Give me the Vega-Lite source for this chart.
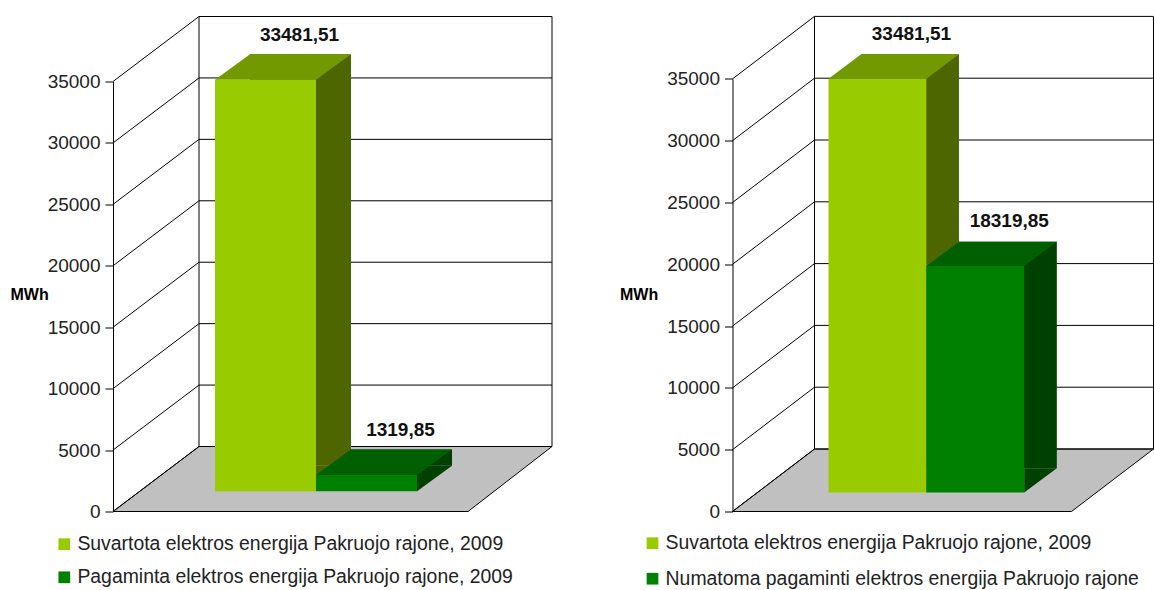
{
  "$schema": "https://vega.github.io/schema/vega-lite/v6.json",
  "padding": {"left": 10, "top": 13.5, "right": 0, "bottom": 0},
  "background": "white",
  "config": {
    "view": {"stroke": null},
    "font": "Liberation Sans",
    "locale": {"number": {"decimal": ",", "thousands": "", "grouping": [3], "currency": ["", ""]}}
  },
  "datasets": {
    "ticks": [{"t": 0}, {"t": 5000}, {"t": 10000}, {"t": 15000}, {"t": 20000}, {"t": 25000}, {"t": 30000}, {"t": 35000}],
    "one": [{"k": 1}]
  },
  "spacing": 65.5,
  "align": "none",
  "resolve": {"scale": {"color": "independent", "x": "independent", "y": "independent"}, "legend": {"color": "independent"}},
  "hconcat": [
    {
      "width": 353,
      "height": 430,
      "data": {"values": [
        {"s": "Suvartota elektros energija Pakruojo rajone, 2009", "v": 33481.51},
        {"s": "Pagaminta elektros energija Pakruojo rajone, 2009", "v": 1319.85}
      ]},
      "layer": [
        {"mark": {"type": "bar", "yOffset": -20.3, "y2Offset": -20.3, "opacity": 0},
         "encoding": {
           "x": {"field": "s", "type": "nominal", "axis": null,
                 "scale": {"type": "band", "domain": ["Suvartota elektros energija Pakruojo rajone, 2009", "Pagaminta elektros energija Pakruojo rajone, 2009"], "paddingInner": 0, "paddingOuter": 0.7475, "align": 0.106}},
           "y": {"field": "v", "type": "quantitative",
                 "scale": {"domain": [0, 35000], "nice": false, "zero": true},
                 "axis": {"values": [0, 5000, 10000, 15000, 20000, 25000, 30000, 35000], "format": "d", "offset": 86, "tickSize": 8, "tickColor": "#000", "domainColor": "#000", "grid": false,
                          "labelFontSize": 19, "labelPadding": 5, "labelColor": "#222",
                          "title": "MWh", "titleAngle": 0, "titleX": -103, "titleY": 212.7, "titleAlign": "left", "titleBaseline": "middle", "titleFontSize": 16, "titleFontWeight": "bold", "titleColor": "#000"}},
           "y2": {"datum": 0}
         }},
        {"data": {"name": "one"}, "mark": {"type": "point", "shape": "M-262.5,0L92.5,0L176.5,-65L-176.5,-65Z", "size": 4, "filled": true, "fill": "#c0c0c0", "stroke": "#000", "strokeWidth": 1, "opacity": 1},
         "encoding": {"y": {"datum": 0, "type": "quantitative"}}},
        {"data": {"name": "ticks"}, "mark": {"type": "rule", "yOffset": -65, "color": "#000", "strokeWidth": 1},
         "encoding": {"y": {"field": "t", "type": "quantitative"}}},
        {"data": {"name": "ticks"}, "mark": {"type": "point", "shape": "M-262.5,0L-176.5,-65", "size": 4, "filled": false, "stroke": "#000", "strokeWidth": 1, "opacity": 1},
         "encoding": {"y": {"field": "t", "type": "quantitative"}}},
        {"data": {"name": "one"}, "mark": {"type": "point", "shape": "M-176.5,-65L-176.5,-495M176.5,-65L176.5,-495", "size": 4, "filled": false, "stroke": "#000", "strokeWidth": 1, "opacity": 1},
         "encoding": {"y": {"datum": 0, "type": "quantitative"}}},
        {"mark": {"type": "bar", "xOffset": 35, "yOffset": -45.8, "y2Offset": -45.8},
         "encoding": {
           "x": {"field": "s", "type": "nominal", "axis": null},
           "y": {"field": "v", "type": "quantitative"},
           "y2": {"datum": 0},
           "fill": {"condition": {"test": "datum.s === 'Suvartota elektros energija Pakruojo rajone, 2009'", "value": "#4d6600"}, "value": "#004000"}
         }},
        {"mark": {"type": "point", "shape": "M50.5,-25.5L50.5,0L85.5,-25.5Z", "size": 4, "filled": true, "strokeWidth": 0, "opacity": 1, "yOffset": -20.3},
         "encoding": {
           "x": {"field": "s", "type": "nominal", "axis": null},
           "y": {"datum": 0, "type": "quantitative"},
           "fill": {"condition": {"test": "datum.s === 'Suvartota elektros energija Pakruojo rajone, 2009'", "value": "#4d6600"}, "value": "#004000"}
         }},
        {"mark": {"type": "point", "shape": "M-50.5,0L50.5,0L85.5,-25.5L-15.5,-25.5Z", "size": 4, "filled": true, "strokeWidth": 0, "opacity": 1, "yOffset": -20.3},
         "encoding": {
           "x": {"field": "s", "type": "nominal", "axis": null},
           "y": {"field": "v", "type": "quantitative"},
           "fill": {"condition": {"test": "datum.s === 'Suvartota elektros energija Pakruojo rajone, 2009'", "value": "#739900"}, "value": "#006000"}
         }},
        {"mark": {"type": "bar", "yOffset": -20.3, "y2Offset": -20.3},
         "encoding": {
           "x": {"field": "s", "type": "nominal", "axis": null},
           "y": {"field": "v", "type": "quantitative"},
           "y2": {"datum": 0},
           "color": {"field": "s", "type": "nominal",
                     "scale": {"domain": ["Suvartota elektros energija Pakruojo rajone, 2009", "Pagaminta elektros energija Pakruojo rajone, 2009"], "range": ["#99cc00", "#008000"]},
                     "legend": {"orient": "none", "legendX": -144.4, "legendY": 453, "title": null, "symbolType": "square", "symbolSize": 137, "symbolStrokeWidth": 0,
                                "labelFontSize": 19.4, "labelOffset": 3.4, "rowPadding": 12.1, "labelLimit": 900, "labelColor": "#222", "padding": 0}}
         }},
        {"mark": {"type": "text", "dx": 34, "dy": -44.5, "yOffset": -20.3, "fontSize": 19, "fontWeight": "bold", "color": "#111", "baseline": "middle", "align": "center"},
         "encoding": {
           "x": {"field": "s", "type": "nominal", "axis": null},
           "y": {"field": "v", "type": "quantitative"},
           "text": {"field": "v", "type": "quantitative", "format": ".2f"}
         }}
      ]
    },
    {
      "width": 339,
      "height": 430,
      "data": {"values": [
        {"s": "Suvartota elektros energija Pakruojo rajone, 2009", "v": 33481.51},
        {"s": "Numatoma pagaminti elektros energija Pakruojo rajone", "v": 18319.85}
      ]},
      "layer": [
        {"mark": {"type": "bar", "yOffset": -19, "y2Offset": -19, "opacity": 0},
         "encoding": {
           "x": {"field": "s", "type": "nominal", "axis": null,
                 "scale": {"type": "band", "domain": ["Suvartota elektros energija Pakruojo rajone, 2009", "Numatoma pagaminti elektros energija Pakruojo rajone"], "paddingInner": 0, "paddingOuter": 0.732, "align": 0.0977}},
           "y": {"field": "v", "type": "quantitative",
                 "scale": {"domain": [0, 35000], "nice": false, "zero": true, "range": [430, -2.6]},
                 "axis": {"values": [0, 5000, 10000, 15000, 20000, 25000, 30000, 35000], "format": "d", "offset": 82, "tickSize": 8, "tickColor": "#000", "domainColor": "#000", "grid": false,
                          "labelFontSize": 19, "labelPadding": 5, "labelColor": "#222",
                          "title": "MWh", "titleAngle": 0, "titleX": -113, "titleY": 212.7, "titleAlign": "left", "titleBaseline": "middle", "titleFontSize": 16, "titleFontWeight": "bold", "titleColor": "#000"}},
           "y2": {"datum": 0}
         }},
        {"data": {"name": "one"}, "mark": {"type": "point", "shape": "M-251.5,0L87.5,0L169.5,-62.5L-169.5,-62.5Z", "size": 4, "filled": true, "fill": "#c0c0c0", "stroke": "#000", "strokeWidth": 1, "opacity": 1},
         "encoding": {"y": {"datum": 0, "type": "quantitative"}}},
        {"data": {"name": "ticks"}, "mark": {"type": "rule", "yOffset": -62.5, "color": "#000", "strokeWidth": 1},
         "encoding": {"y": {"field": "t", "type": "quantitative"}}},
        {"data": {"name": "ticks"}, "mark": {"type": "point", "shape": "M-251.5,0L-169.5,-62.5", "size": 4, "filled": false, "stroke": "#000", "strokeWidth": 1, "opacity": 1},
         "encoding": {"y": {"field": "t", "type": "quantitative"}}},
        {"data": {"name": "one"}, "mark": {"type": "point", "shape": "M-169.5,-62.5L-169.5,-495M169.5,-62.5L169.5,-495", "size": 4, "filled": false, "stroke": "#000", "strokeWidth": 1, "opacity": 1},
         "encoding": {"y": {"datum": 0, "type": "quantitative"}}},
        {"mark": {"type": "bar", "xOffset": 32.6, "yOffset": -43.3, "y2Offset": -43.3},
         "encoding": {
           "x": {"field": "s", "type": "nominal", "axis": null},
           "y": {"field": "v", "type": "quantitative"},
           "y2": {"datum": 0},
           "fill": {"condition": {"test": "datum.s === 'Suvartota elektros energija Pakruojo rajone, 2009'", "value": "#4d6600"}, "value": "#004000"}
         }},
        {"mark": {"type": "point", "shape": "M48.9,-24.3L48.9,0L81.5,-24.3Z", "size": 4, "filled": true, "strokeWidth": 0, "opacity": 1, "yOffset": -19},
         "encoding": {
           "x": {"field": "s", "type": "nominal", "axis": null},
           "y": {"datum": 0, "type": "quantitative"},
           "fill": {"condition": {"test": "datum.s === 'Suvartota elektros energija Pakruojo rajone, 2009'", "value": "#4d6600"}, "value": "#004000"}
         }},
        {"mark": {"type": "point", "shape": "M-48.9,0L48.9,0L81.5,-24.3L-16.3,-24.3Z", "size": 4, "filled": true, "strokeWidth": 0, "opacity": 1, "yOffset": -19},
         "encoding": {
           "x": {"field": "s", "type": "nominal", "axis": null},
           "y": {"field": "v", "type": "quantitative"},
           "fill": {"condition": {"test": "datum.s === 'Suvartota elektros energija Pakruojo rajone, 2009'", "value": "#739900"}, "value": "#006000"}
         }},
        {"mark": {"type": "bar", "yOffset": -19, "y2Offset": -19},
         "encoding": {
           "x": {"field": "s", "type": "nominal", "axis": null},
           "y": {"field": "v", "type": "quantitative"},
           "y2": {"datum": 0},
           "color": {"field": "s", "type": "nominal",
                     "scale": {"domain": ["Suvartota elektros energija Pakruojo rajone, 2009", "Numatoma pagaminti elektros energija Pakruojo rajone"], "range": ["#99cc00", "#008000"]},
                     "legend": {"orient": "none", "legendX": -171.7, "legendY": 452, "title": null, "symbolType": "square", "symbolSize": 137, "symbolStrokeWidth": 0,
                                "labelFontSize": 19.4, "labelOffset": 3.4, "rowPadding": 14.5, "labelLimit": 900, "labelColor": "#222", "padding": 0}}
         }},
        {"mark": {"type": "text", "dx": 34, "dy": -45, "yOffset": -19, "fontSize": 19, "fontWeight": "bold", "color": "#111", "baseline": "middle", "align": "center"},
         "encoding": {
           "x": {"field": "s", "type": "nominal", "axis": null},
           "y": {"field": "v", "type": "quantitative"},
           "text": {"field": "v", "type": "quantitative", "format": ".2f"}
         }}
      ]
    }
  ]
}
